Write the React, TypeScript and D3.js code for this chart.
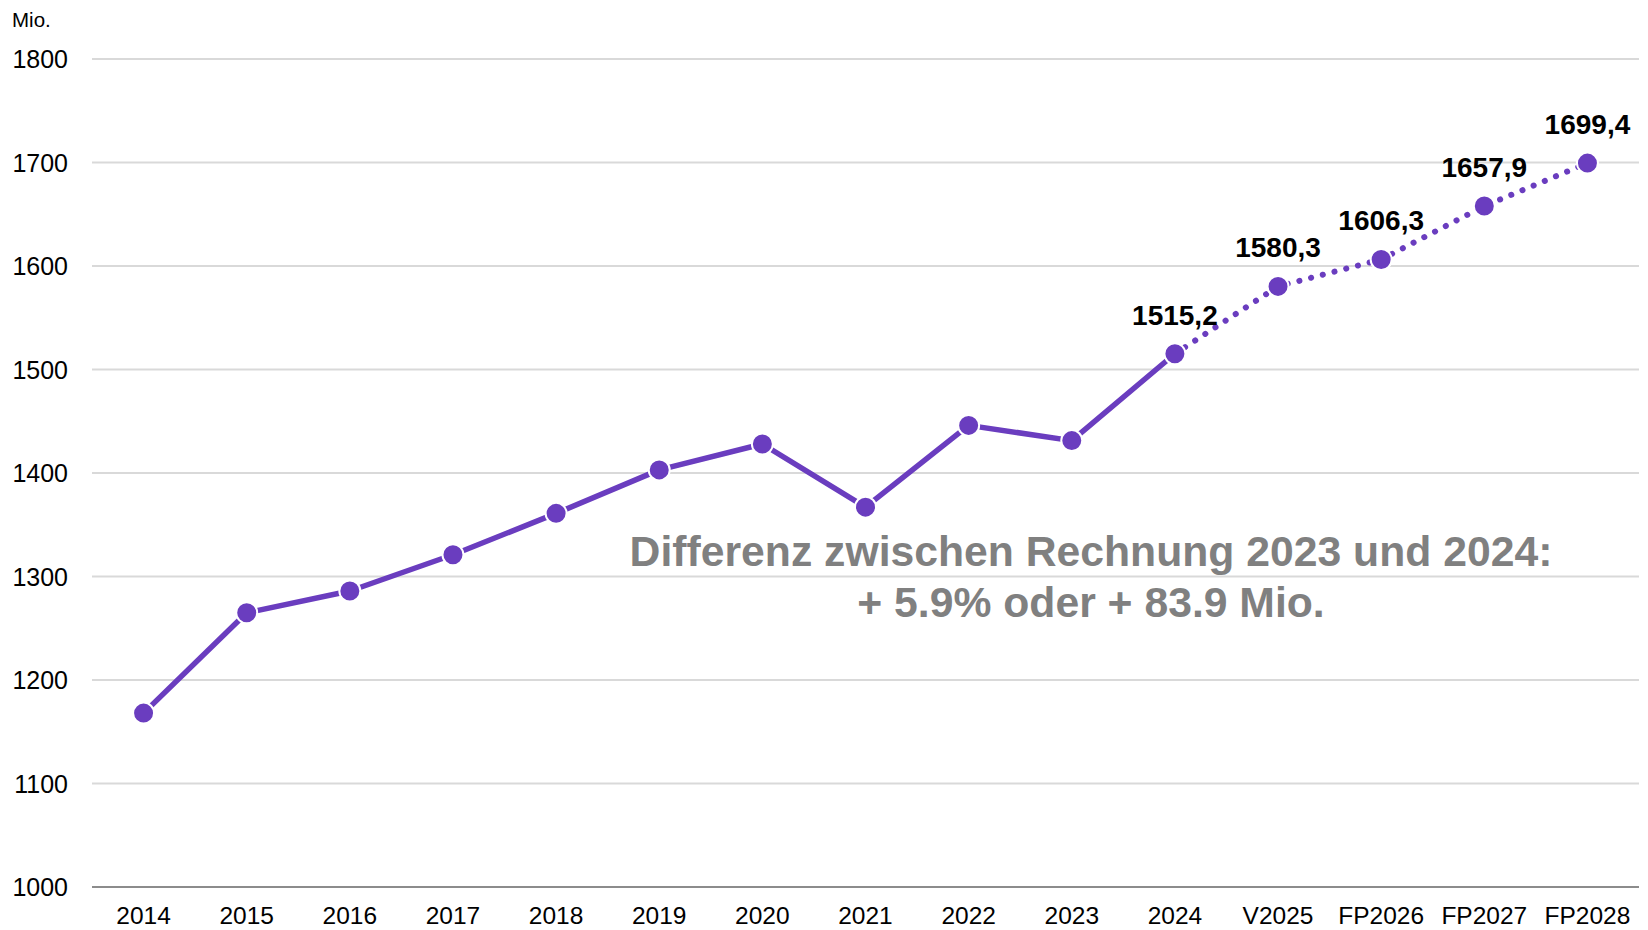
import React, { useEffect } from "react";
import * as d3 from "d3";

const categories = ["2014","2015","2016","2017","2018","2019","2020","2021","2022","2023","2024","V2025","FP2026","FP2027","FP2028"];
const values = [1168, 1265, 1286, 1321, 1361, 1403, 1428, 1367, 1446, 1431.3, 1515.2, 1580.3, 1606.3, 1657.9, 1699.4];
const yTicks = [1000, 1100, 1200, 1300, 1400, 1500, 1600, 1700, 1800];
const actualCount = 11; // 2014..2024 solid
const labelFrom = 10; // labels from 2024 onward
const annotationLines = ["Differenz zwischen Rechnung 2023 und 2024:", "+ 5.9% oder + 83.9 Mio."];
const unitLabel = "Mio.";

const W = 1648, H = 930;
const COLOR = "#6a3dbf";
const FONT = "Liberation Sans, Arial, sans-serif";

export default function App() {
  useEffect(() => { document.body.style.margin = "0"; }, []);
  const x = d3.scalePoint<string>().domain(categories).range([92, 1639]).padding(0.5);
  const y = d3.scaleLinear().domain([1000, 1800]).range([887, 59]);
  const de = d3.formatLocale({ decimal: ",", thousands: ".", grouping: [3], currency: ["", "€"] });
  const fmt = de.format(".1f");
  const pts = categories.map((c, i) => ({ c, v: values[i], x: x(c) as number, y: y(values[i]) }));
  const line = d3.line<{ x: number; y: number }>().x(d => d.x).y(d => d.y);
  const solid = pts.slice(0, actualCount);
  const dotted = pts.slice(actualCount - 1);
  return (
    <svg width={W} height={H} style={{ display: "block", background: "#fff" }} fontFamily={FONT}>
      <text x={12} y={27} fontSize={20.5} fill="#000">{unitLabel}</text>
      {yTicks.map(t => (
        <g key={t}>
          <line x1={92} x2={1639} y1={y(t)} y2={y(t)} stroke={t === 1000 ? "#8c8c8c" : "#d9d9d9"} strokeWidth={2} />
          <text x={68} y={y(t) + 9} textAnchor="end" fontSize={25} fill="#000">{t}</text>
        </g>
      ))}
      {categories.map(c => (
        <text key={c} x={x(c)} y={924} textAnchor="middle" fontSize={24.5} fill="#000">{c}</text>
      ))}
      <path d={line(solid) || ""} fill="none" stroke={COLOR} strokeWidth={5.5} strokeLinejoin="round" />
      <path d={line(dotted) || ""} fill="none" stroke={COLOR} strokeWidth={6} strokeLinecap="round" strokeDasharray="0.1 12" />
      {pts.map(p => (
        <circle key={p.c} cx={p.x} cy={p.y} r={10.5} fill={COLOR} stroke="#fff" strokeWidth={2} />
      ))}
      {pts.slice(labelFrom).map(p => (
        <text key={"l" + p.c} x={p.x} y={p.y - 29} textAnchor="middle" fontSize={28} fontWeight="bold" fill="#000">{fmt(p.v)}</text>
      ))}
      {annotationLines.map((t, i) => (
        <text key={t} x={1091} y={566 + i * 51} textAnchor="middle" fontSize={42.7} fontWeight="bold" fill="#808080">{t}</text>
      ))}
    </svg>
  );
}
